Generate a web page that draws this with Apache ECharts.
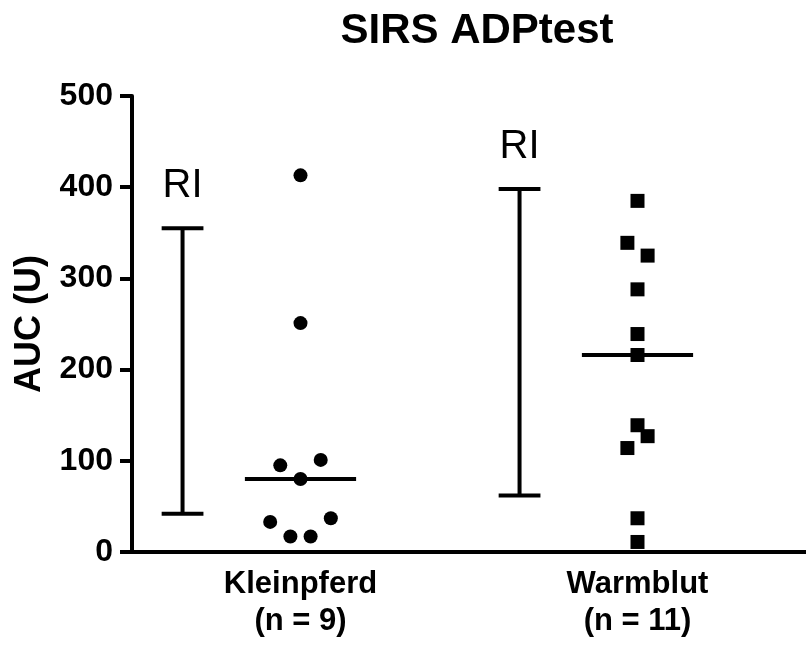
<!DOCTYPE html>
<html><head><meta charset="utf-8">
<script src="https://cdn.jsdelivr.net/npm/echarts@6/dist/echarts.min.js"></script>
<style>html,body{margin:0;padding:0;background:#fff}#c{width:806px;height:648px}</style>
</head><body><div id="c"></div>
<script>
const chartTitle = 'SIRS ADPtest';
const yAxisName = 'AUC (U)';
const categories = ['Kleinpferd', 'Warmblut'];
const kleinpferdValues = [413, 251, 101, 95, 80, 37, 33, 17, 17];
const kleinpferdJitter = [0, 0, 0.06, -0.06, 0, 0.09, -0.09, -0.03, 0.03];
const warmblutValues = [385, 339, 325, 288, 239, 216, 139, 127, 114, 37, 11];
const warmblutJitter = [0, -0.03, 0.03, 0, 0, 0, 0, 0.03, -0.03, 0, 0];
const riLow = [42, 62];
const riHigh = [355, 398];
const riLabel = 'RI';
const yMin = 0, yMax = 500, yStep = 100;

const groups = [kleinpferdValues, warmblutValues];
function median(a) {
  const s = a.slice().sort((x, y) => x - y);
  const m = Math.floor(s.length / 2);
  return s.length % 2 ? s[m] : (s[m - 1] + s[m]) / 2;
}
const medians = groups.map(median);
const xLabels = categories.map((c, i) => c + '\n(n = ' + groups[i].length + ')');

const FONT = '"Liberation Sans", Arial, Helvetica, sans-serif';
const chart = echarts.init(document.getElementById('c'), null, {renderer: 'canvas'});
const MED_HALF = 0.165, RI_OFF = -0.35, CAP_HALF = 0.062;

chart.setOption({
  animation: false,
  backgroundColor: '#fff',
  title: {
    text: chartTitle, left: 472, top: 5, textAlign: 'center',
    textStyle: {fontFamily: FONT, fontSize: 42, fontWeight: 'bold', color: '#000'}
  },
  grid: {left: 132, top: 96, width: 678, bottom: 96, containLabel: false},
  xAxis: [{
    type: 'category', data: xLabels, boundaryGap: true,
    axisLine: {lineStyle: {color: '#000', width: 4}},
    axisTick: {alignWithLabel: true, length: 10, lineStyle: {color: '#000', width: 4}},
    axisLabel: {margin: 14, color: '#000', fontFamily: FONT, fontSize: 31, fontWeight: 'bold', lineHeight: 37},
    splitLine: {show: false}
  }, {
    type: 'value', min: -0.5, max: 1.5, show: false
  }],
  yAxis: {
    type: 'value', min: yMin, max: yMax, interval: yStep,
    name: yAxisName, nameLocation: 'middle', nameGap: 84,
    nameTextStyle: {fontFamily: FONT, fontSize: 36, fontWeight: 'bold', color: '#000'},
    axisLine: {show: true, onZero: false, lineStyle: {color: '#000', width: 4}},
    axisTick: {show: true, length: 12, lineStyle: {color: '#000', width: 4}},
    axisLabel: {margin: 19, color: '#000', fontFamily: FONT, fontSize: 32, fontWeight: 'bold'},
    splitLine: {show: false}
  },
  series: [
    {
      type: 'scatter', xAxisIndex: 1, symbol: 'circle', symbolSize: 14,
      itemStyle: {color: '#000', opacity: 1},
      data: kleinpferdValues.map((v, i) => [0 + kleinpferdJitter[i], v]), z: 3
    },
    {
      type: 'scatter', xAxisIndex: 1, symbol: 'rect', symbolSize: 14,
      itemStyle: {color: '#000', opacity: 1},
      data: warmblutValues.map((v, i) => [1 + warmblutJitter[i], v]), z: 3
    },
    {
      type: 'custom', xAxisIndex: 1, z: 2,
      data: medians.map((m, i) => [i, m]),
      renderItem: function (params, api) {
        const x = api.value(0), y = api.value(1);
        const p1 = api.coord([x - MED_HALF, y]), p2 = api.coord([x + MED_HALF, y]);
        return {type: 'line', shape: {x1: p1[0], y1: p1[1], x2: p2[0], y2: p2[1]},
          style: {stroke: '#000', lineWidth: 4}};
      }
    },
    {
      type: 'custom', xAxisIndex: 1, z: 2,
      data: riLow.map((lo, i) => [i, lo, riHigh[i]]),
      renderItem: function (params, api) {
        const x = api.value(0) + RI_OFF, lo = api.value(1), hi = api.value(2);
        const b = api.coord([x, lo]), t = api.coord([x, hi]);
        const bl = api.coord([x - CAP_HALF, lo]), br = api.coord([x + CAP_HALF, lo]);
        const tl = api.coord([x - CAP_HALF, hi]), tr = api.coord([x + CAP_HALF, hi]);
        const st = {stroke: '#000', lineWidth: 4};
        return {type: 'group', children: [
          {type: 'line', shape: {x1: b[0], y1: b[1], x2: t[0], y2: t[1]}, style: st},
          {type: 'line', shape: {x1: bl[0], y1: bl[1], x2: br[0], y2: br[1]}, style: st},
          {type: 'line', shape: {x1: tl[0], y1: tl[1], x2: tr[0], y2: tr[1]}, style: st},
          {type: 'text', x: t[0], y: t[1] - 42, style: {text: riLabel, fontFamily: FONT, fontSize: 40,
            fill: '#000', align: 'center', verticalAlign: 'middle'}}
        ]};
      }
    }
  ]
});
</script></body></html>
